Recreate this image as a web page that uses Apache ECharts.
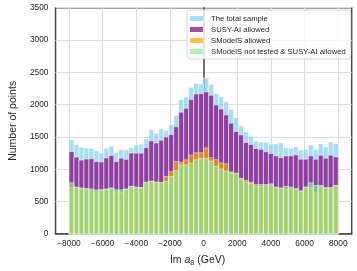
<!DOCTYPE html>
<html><head><meta charset="utf-8">
<script src="https://cdn.jsdelivr.net/npm/echarts@6/dist/echarts.min.js"></script>
<style>html,body{margin:0;padding:0;background:#fff}#c{width:357px;height:271px}</style>
</head><body><div id="c"></div>
<script>
// Histogram bins: 54 equal bins spanning -8000 .. 8000 GeV
const binLo = -8000;
const binHi = 8000;
const seriesNames = ['The total sample', 'SUSY-AI allowed', 'SModelS allowed', 'SModelS not tested & SUSY-AI allowed'];
const totalSample = [1460,1380,1340,1332,1322,1288,1254,1325,1357,1256,1302,1302,1335,1378,1388,1470,1612,1555,1626,1600,1690,1830,2080,2120,2265,2330,2320,2415,2314,2172,2121,2045,1930,1800,1670,1580,1510,1435,1421,1418,1390,1396,1411,1335,1325,1345,1300,1310,1375,1310,1396,1345,1426,1396];
const susyAI = [1275,1190,1142,1160,1165,1120,1114,1177,1215,1120,1172,1155,1252,1250,1250,1335,1440,1408,1450,1500,1538,1660,1883,1944,2080,2165,2172,2197,2145,1994,1933,1842,1715,1585,1533,1415,1385,1322,1309,1272,1244,1208,1183,1208,1208,1223,1157,1157,1208,1157,1218,1172,1218,1193];
const smodelsAllowed = [716,720,705,695,665,650,680,690,705,650,645,690,735,722,716,795,812,800,790,890,965,1120,1110,1147,1220,1255,1255,1330,1180,1150,1100,1085,960,930,860,830,800,765,740,745,760,720,706,691,700,696,660,720,720,635,740,710,710,745];
const notTestedSusy = [792,726,711,701,696,680,685,696,711,685,685,696,736,726,716,800,817,802,795,812,888,980,1071,1068,1098,1147,1167,1167,1128,1043,1005,972,945,939,853,805,780,740,766,765,777,726,711,736,726,701,665,726,792,751,746,716,716,751];
const xTicks = [-8000,-6000,-4000,-2000,0,2000,4000,6000,8000];

const colors = ['#87CEEB', '#800080', '#FFA500', '#90EE90'];
const legendColors = ['#ABDDF1', '#A64DA6', '#FFC04D', '#B1F3B1'];
const allValues = [totalSample, susyAI, smodelsAllowed, notTestedSusy];
const nBins = totalSample.length;
const bw = (binHi - binLo) / nBins;

function makeData(vals) {
  return vals.map((v, i) => [binLo + i * bw, binLo + (i + 1) * bw, v]);
}
function renderItem(params, api) {
  const p0 = api.coord([api.value(0), api.value(2)]);
  const p1 = api.coord([api.value(1), 0]);
  return {
    type: 'rect',
    shape: {x: p0[0], y: p0[1], width: p1[0] - p0[0], height: p1[1] - p0[1]},
    style: {fill: api.visual('color'), stroke: '#ffffff', lineWidth: 0.7, opacity: 0.7}
  };
}
const font = 'Liberation Sans, Arial, sans-serif';
const chart = echarts.init(document.getElementById('c'), null, {renderer: 'canvas'});
chart.setOption({
  animation: false,
  backgroundColor: '#ffffff',
  grid: {left: 43, right: 5.3, top: 7.7, bottom: 33.3, show: true, borderColor: '#4a4a4a', borderWidth: 1.5, backgroundColor: 'transparent'},
  xAxis: {
    type: 'value', min: -8800, max: 8800,
    axisLine: {show: true, onZero: false, lineStyle: {color: '#4a4a4a', width: 1.5}},
    axisTick: {show: false, customValues: xTicks},
    splitLine: {show: true, lineStyle: {color: '#dcdcdc', width: 1}},
    axisLabel: {customValues: xTicks, fontFamily: font, fontSize: 8.4, color: '#262626', margin: 5.5,
      formatter: v => String(v).replace('-', '\u2212')},
    name: '{r|Im }{i|a}{s|8}{r| (GeV)}',
    nameLocation: 'middle', nameGap: 20,
    nameTextStyle: {padding: [0, 12, 0, 0], rich: {
      r: {fontFamily: font, fontSize: 10.5, color: '#262626'},
      i: {fontFamily: font, fontSize: 10.5, fontStyle: 'italic', color: '#262626'},
      s: {fontFamily: font, fontSize: 7.3, color: '#262626', padding: [5, 0, 0, 0]}
    }}
  },
  yAxis: {
    type: 'value', min: 0, max: 3500, interval: 500,
    axisLine: {show: true, lineStyle: {color: '#4a4a4a', width: 1.5}},
    axisTick: {show: false},
    splitLine: {show: true, lineStyle: {color: '#dcdcdc', width: 1}},
    axisLabel: {fontFamily: font, fontSize: 8.4, color: '#262626', margin: 7, formatter: v => String(v)},
    name: 'Number of points', nameLocation: 'middle', nameGap: 31.5,
    nameTextStyle: {fontFamily: font, fontSize: 10.5, color: '#262626'}
  },
  legend: {
    orient: 'vertical', left: 187, top: 10,
    padding: [4, 5, 3, 3],
    backgroundColor: 'rgba(255,255,255,0.8)', borderColor: '#cccccc', borderWidth: 0.8, borderRadius: 3,
    itemWidth: 13, itemHeight: 5, itemGap: 2,
    textStyle: {fontFamily: font, fontSize: 7.7, color: '#262626', lineHeight: 9, padding: [0, 0, 0, 3]},
    data: seriesNames.map((n, i) => ({name: n, icon: 'rect', itemStyle: {color: legendColors[i], opacity: 1, borderWidth: 0}}))
  },
  series: seriesNames.map((n, i) => ({
    type: 'custom', name: n, renderItem: renderItem,
    itemStyle: {color: colors[i]},
    encode: {x: [0, 1], y: 2},
    data: makeData(allValues[i]),
    z: 2 + i
  }))
});
</script></body></html>
